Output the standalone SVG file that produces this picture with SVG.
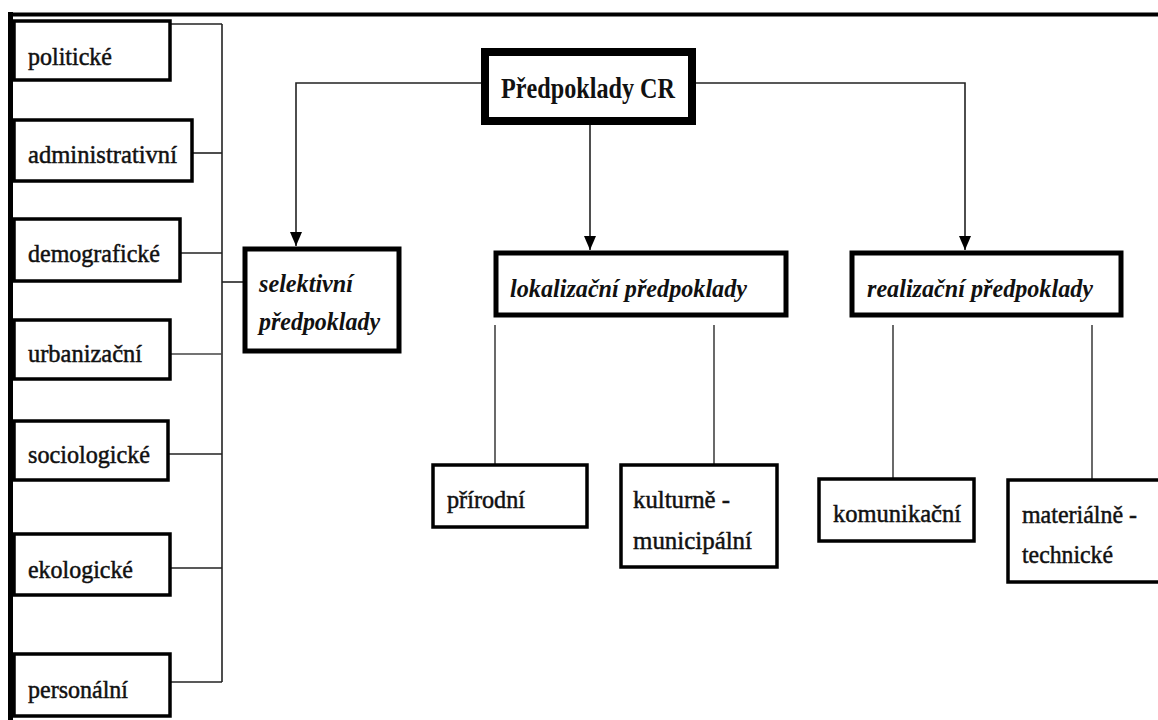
<svg xmlns="http://www.w3.org/2000/svg" width="1158" height="720" viewBox="0 0 1158 720">
<style>
.box{fill:#fff;stroke:#000;stroke-width:3.5}
.box5{fill:#fff;stroke:#000;stroke-width:5}
.main{fill:#fff;stroke:#000;stroke-width:8}
.t{font-family:"Liberation Serif","DejaVu Serif",serif;font-size:26px;fill:#111;stroke:#111;stroke-width:0.5}
.ti{font-family:"Liberation Serif","DejaVu Serif",serif;font-size:26px;font-style:italic;font-weight:bold;fill:#111}
.tb{font-family:"Liberation Serif","DejaVu Serif",serif;font-size:30px;font-weight:bold;fill:#111}
.c{fill:none;stroke:#222;stroke-width:1.6}
.g{fill:none;stroke:#444;stroke-width:1.6}
</style>
<defs>
<marker id="arr" viewBox="0 0 14 12" refX="14" refY="6" markerWidth="14" markerHeight="12" orient="auto" markerUnits="userSpaceOnUse">
<path d="M0,0 L14,6 L0,12 z" fill="#000"/>
</marker>
</defs>
<rect width="1158" height="720" fill="#fff"/>
<g id="frame">
<line x1="10.5" y1="12" x2="10.5" y2="720" stroke="#000" stroke-width="5"/>
<line x1="8" y1="14.5" x2="1158" y2="14.5" stroke="#000" stroke-width="4"/>
</g>
<g id="connectors">
<path class="c" d="M222,24 V682"/>
<path class="c" d="M170,24 H222"/>
<path class="c" d="M192,153 H222"/>
<path class="c" d="M180,253 H222"/>
<path class="c" d="M222,282 H243"/>
<path class="g" d="M170,354 H222"/>
<path class="c" d="M168,454 H222"/>
<path class="c" d="M170,568 H222"/>
<path class="c" d="M170,682 H222"/>
<path class="c" d="M481,83 H296 V246" marker-end="url(#arr)"/>
<path class="c" d="M590,125 V250" marker-end="url(#arr)"/>
<path class="c" d="M696,83 H965 V250" marker-end="url(#arr)"/>
<path class="g" d="M495,325 V465"/>
<path class="g" d="M714,325 V465"/>
<path class="g" d="M893,325 V478"/>
<path class="g" d="M1092,325 V479"/>
</g>
<g id="politicke"><rect class="box" x="14" y="21" width="156" height="59"/><text class="t" x="28" y="65" textLength="84" lengthAdjust="spacingAndGlyphs">politické</text></g>
<g id="administrativni"><rect class="box" x="14" y="120" width="178" height="61"/><text class="t" x="28" y="163" textLength="149" lengthAdjust="spacingAndGlyphs">administrativní</text></g>
<g id="demograficke"><rect class="box" x="14" y="219" width="166" height="62"/><text class="t" x="28" y="262" textLength="132" lengthAdjust="spacingAndGlyphs">demografické</text></g>
<g id="urbanizacni"><rect class="box" x="14" y="320" width="156" height="59"/><text class="t" x="28" y="362" textLength="114" lengthAdjust="spacingAndGlyphs">urbanizační</text></g>
<g id="sociologicke"><rect class="box" x="14" y="421" width="154" height="59"/><text class="t" x="28" y="463" textLength="122" lengthAdjust="spacingAndGlyphs">sociologické</text></g>
<g id="ekologicke"><rect class="box" x="14" y="534" width="156" height="61"/><text class="t" x="28" y="578" textLength="105" lengthAdjust="spacingAndGlyphs">ekologické</text></g>
<g id="personalni"><rect class="box" x="14" y="654" width="156" height="62"/><text class="t" x="28" y="698" textLength="100" lengthAdjust="spacingAndGlyphs">personální</text></g>
<g id="predpoklady-cr"><rect class="main" x="485" y="52" width="207" height="69"/><text class="tb" x="501" y="98" textLength="174" lengthAdjust="spacingAndGlyphs">Předpoklady CR</text></g>
<g id="selektivni"><rect class="box5" x="245" y="249" width="154" height="102"/><text class="ti" x="259" y="292" textLength="94" lengthAdjust="spacingAndGlyphs">selektivní</text><text class="ti" x="259" y="330" textLength="121" lengthAdjust="spacingAndGlyphs">předpoklady</text></g>
<g id="lokalizacni"><rect class="box5" x="496" y="253" width="290" height="62"/><text class="ti" x="510" y="297" textLength="237" lengthAdjust="spacingAndGlyphs">lokalizační předpoklady</text></g>
<g id="realizacni"><rect class="box5" x="852" y="253" width="269" height="62"/><text class="ti" x="867" y="297" textLength="226" lengthAdjust="spacingAndGlyphs">realizační předpoklady</text></g>
<g id="prirodni"><rect class="box" x="433" y="465" width="154" height="62"/><text class="t" x="447" y="508" textLength="78" lengthAdjust="spacingAndGlyphs">přírodní</text></g>
<g id="kulturne"><rect class="box" x="621" y="465" width="156" height="102"/><text class="t" x="633" y="508" textLength="97" lengthAdjust="spacingAndGlyphs">kulturně -</text><text class="t" x="633" y="549" textLength="119" lengthAdjust="spacingAndGlyphs">municipální</text></g>
<g id="komunikacni"><rect class="box" x="819" y="479" width="155" height="62"/><text class="t" x="833" y="522" textLength="128" lengthAdjust="spacingAndGlyphs">komunikační</text></g>
<g id="materialne"><rect class="box" x="1008" y="480" width="160" height="102"/><text class="t" x="1022" y="523" textLength="115" lengthAdjust="spacingAndGlyphs">materiálně -</text><text class="t" x="1022" y="563" textLength="91" lengthAdjust="spacingAndGlyphs">technické</text></g>
</svg>
